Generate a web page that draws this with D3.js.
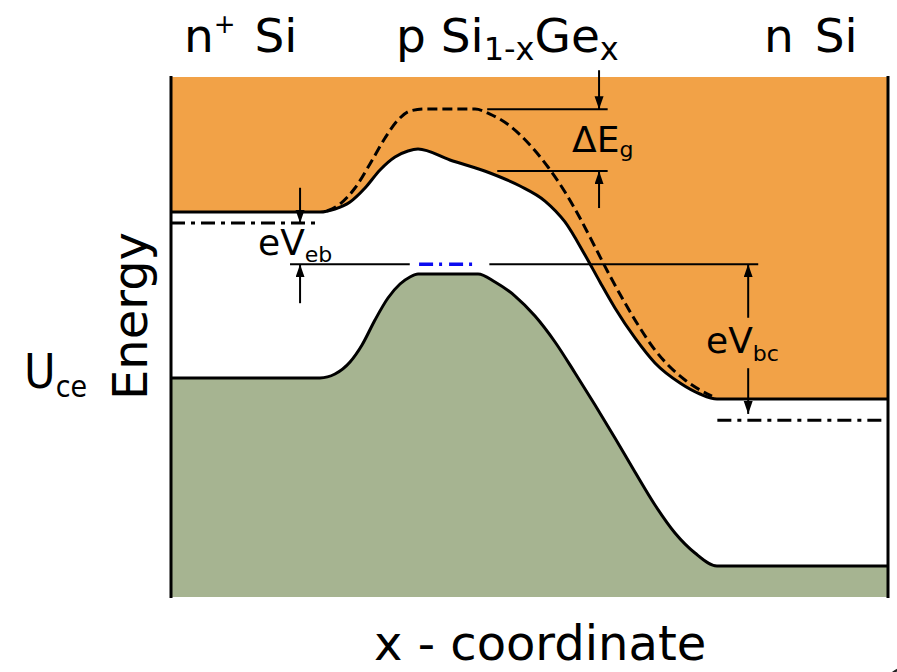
<!DOCTYPE html>
<html>
<head>
<meta charset="utf-8">
<script src="https://cdn.jsdelivr.net/npm/d3@7"></script>
<style>
  html, body { margin: 0; padding: 0; background: #fff; }
  svg { display: block; }
  text { font-family: "DejaVu Sans", Verdana, sans-serif; fill: #000; }
</style>
</head>
<body>
<svg id="chart" width="897" height="672"></svg>
<script>
// Position along the device (0–100 % of x) and energy (arbitrary units, 0–100)

// Conduction band edge of the SiGe HBT
const conductionBand = [
  [0, 74.04], [20.78, 74.04], [22.87, 74.62], [24.97, 75.96], [27.06, 78.65],
  [29.15, 82.12], [31.24, 84.62], [33.05, 85.77], [34.45, 86.15], [38.91, 84.04],
  [44.49, 81.54], [48.68, 79.04], [52.16, 76.15], [54.95, 72.12], [57.74, 65.77],
  [59.83, 60.58], [61.92, 55.58], [64.71, 49.81], [67.50, 45.00], [70.99, 41.15],
  [73.78, 39.04], [76.15, 38.08], [100, 38.08]
];

// Conduction band edge without the Ge band-gap narrowing (dashed)
const siliconBand = [
  [21.76, 74.23], [23.57, 75.58], [25.66, 78.65], [27.75, 83.27], [29.85, 88.27],
  [31.66, 91.73], [33.33, 93.46], [35.43, 93.85], [42.40, 93.85], [44.49, 92.88],
  [47.28, 90.58], [50.07, 86.92], [52.58, 82.69], [54.95, 77.88], [57.04, 72.88],
  [59.14, 67.31], [61.23, 61.73], [63.32, 56.54], [65.41, 51.73], [67.50, 47.50],
  [69.60, 44.23], [71.69, 41.73], [73.78, 39.81], [75.45, 38.65]
];

// Valence band edge
const valenceBand = [
  [0, 42.12], [20.78, 42.12], [22.87, 42.88], [24.97, 45.19], [26.64, 48.46],
  [28.45, 53.27], [30.26, 57.50], [31.94, 60.19], [33.33, 61.54], [34.45, 62.12],
  [42.82, 62.12], [45.19, 60.58], [47.98, 57.88], [50.77, 54.04], [53.56, 49.04],
  [56.35, 43.08], [59.14, 36.92], [61.92, 30.58], [64.71, 24.04], [67.50, 17.69],
  [70.29, 12.31], [73.08, 8.46], [76.15, 5.96], [100, 5.96]
];

// Quasi-Fermi levels: [x start, x end, energy]
const emitterFermi = [0, 20.8, 71.9];
const baseFermi = [34.6, 42.6, 64.0];
const collectorFermi = [76.2, 100, 34.0];

// Reference lines for the annotations: [x start, x end, energy]
const referenceLines = [
  [16.6, 33.3, 64.0],
  [44.4, 81.9, 64.0],
  [44.1, 60.9, 93.8],
  [45.5, 60.9, 81.9]
];

// Arrows: [x, energy at tail, energy at tip]
const arrows = [
  [18.0, 78.7, 71.9],   // eV_eb, from above
  [18.0, 56.5, 64.0],   // eV_eb, from below
  [59.7, 101.3, 93.8],  // ΔE_g, from above
  [59.7, 74.8, 81.9],   // ΔE_g, from below
  [80.5, 53.7, 64.0],   // eV_bc, up to the base level
  [80.5, 44.0, 35.2]    // eV_bc, down to the collector level
];

const svg = d3.select("#chart");
const x = d3.scaleLinear().domain([0, 100]).range([171, 888]);
const y = d3.scaleLinear().domain([0, 100]).range([597, 77]);

const orange = "#f2a247";
const green = "#a6b491";

const curve = d3.curveMonotoneX;

// Filled bands
svg.append("path")
  .datum(conductionBand)
  .attr("fill", orange)
  .attr("d", d3.area().curve(curve).x(d => x(d[0])).y0(y(100)).y1(d => y(d[1])));

svg.append("path")
  .datum(valenceBand)
  .attr("fill", green)
  .attr("d", d3.area().curve(curve).x(d => x(d[0])).y0(y(0)).y1(d => y(d[1])));

const line = d3.line().curve(curve).x(d => x(d[0])).y(d => y(d[1]));

svg.append("path").datum(conductionBand)
  .attr("fill", "none").attr("stroke", "#000").attr("stroke-width", 3)
  .attr("d", line);

svg.append("path").datum(valenceBand)
  .attr("fill", "none").attr("stroke", "#000").attr("stroke-width", 3)
  .attr("d", line);

svg.append("path").datum(siliconBand)
  .attr("fill", "none").attr("stroke", "#000").attr("stroke-width", 3)
  .attr("stroke-dasharray", "10,5")
  .attr("d", line);

// Side walls of the device
svg.selectAll("line.wall").data([0, 100]).enter().append("line")
  .attr("class", "wall")
  .attr("x1", d => x(d)).attr("x2", d => x(d))
  .attr("y1", y(100.2)).attr("y2", y(-0.2))
  .attr("stroke", "#000").attr("stroke-width", 3);

// Horizontal levels
function hLine(d, color, dash, width) {
  svg.append("line")
    .attr("x1", x(d[0])).attr("x2", x(d[1]))
    .attr("y1", y(d[2])).attr("y2", y(d[2]))
    .attr("stroke", color).attr("stroke-width", width)
    .attr("stroke-dasharray", dash);
}
hLine(emitterFermi, "#000", "14,6,4,6", 3);
hLine(collectorFermi, "#000", "14,6,4,6", 3);
hLine(baseFermi, "#0b0bf0", "14,6,3,7", 3.5);

referenceLines.forEach(d => hLine(d, "#000", null, 2));

// Arrow heads
svg.append("defs").append("marker")
  .attr("id", "head")
  .attr("markerUnits", "userSpaceOnUse")
  .attr("markerWidth", 14).attr("markerHeight", 10)
  .attr("refX", 13).attr("refY", 4.5)
  .attr("orient", "auto")
  .append("path")
  .attr("d", "M0,0 L13,4.5 L0,9 Z")
  .attr("fill", "#000");

svg.selectAll("line.arrow").data(arrows).enter().append("line")
  .attr("class", "arrow")
  .attr("x1", d => x(d[0])).attr("x2", d => x(d[0]))
  .attr("y1", d => y(d[1])).attr("y2", d => y(d[2]))
  .attr("stroke", "#000").attr("stroke-width", 2)
  .attr("marker-end", "url(#head)");

// Flowing text with sub/superscripts: parts are [text, size, baseline, dx]
function label(x0, parts, family) {
  const t = svg.append("text").attr("x", x0).attr("y", parts[0][2]);
  if (family) t.style("font-family", family);
  parts.forEach(p => {
    t.append("tspan")
      .attr("y", p[2])
      .attr("dx", p[3] || 0)
      .attr("font-size", p[1])
      .text(p[0]);
  });
  return t;
}

// Region names
label(184, [["n", 47, 52], ["+", 26, 33], ["\u00a0Si", 47, 52, 4]]);
label(396, [["p Si", 47, 52], ["1-x", 32, 60], ["Ge", 47, 52], ["x", 32, 60]]);
label(764, [["n", 47, 52], ["\u00a0Si", 47, 52, 6]]);

// Band annotations
label(258, [["eV", 36, 255], ["eb", 22, 262]]);
label(572, [["ΔE", 36, 152], ["g", 22, 157]]);
label(706, [["eV", 36, 353], ["bc", 22, 361]]);

// Axis titles
svg.append("text")
  .attr("x", 374).attr("y", 660)
  .attr("font-size", 48)
  .text("x - coordinate");

svg.append("text")
  .attr("transform", "translate(147,316) rotate(-90)")
  .attr("text-anchor", "middle")
  .attr("font-size", 48)
  .text("Energy");

label(24, [["U", 48, 388], ["ce", 30, 397]],
      "'DejaVu Sans Condensed', 'Liberation Sans Narrow', sans-serif");

// Partial mark in the lower right corner
svg.append("circle")
  .attr("cx", 906).attr("cy", 688).attr("r", 20)
  .attr("fill", "none").attr("stroke", "#222").attr("stroke-width", 2.5);
</script>
</body>
</html>
